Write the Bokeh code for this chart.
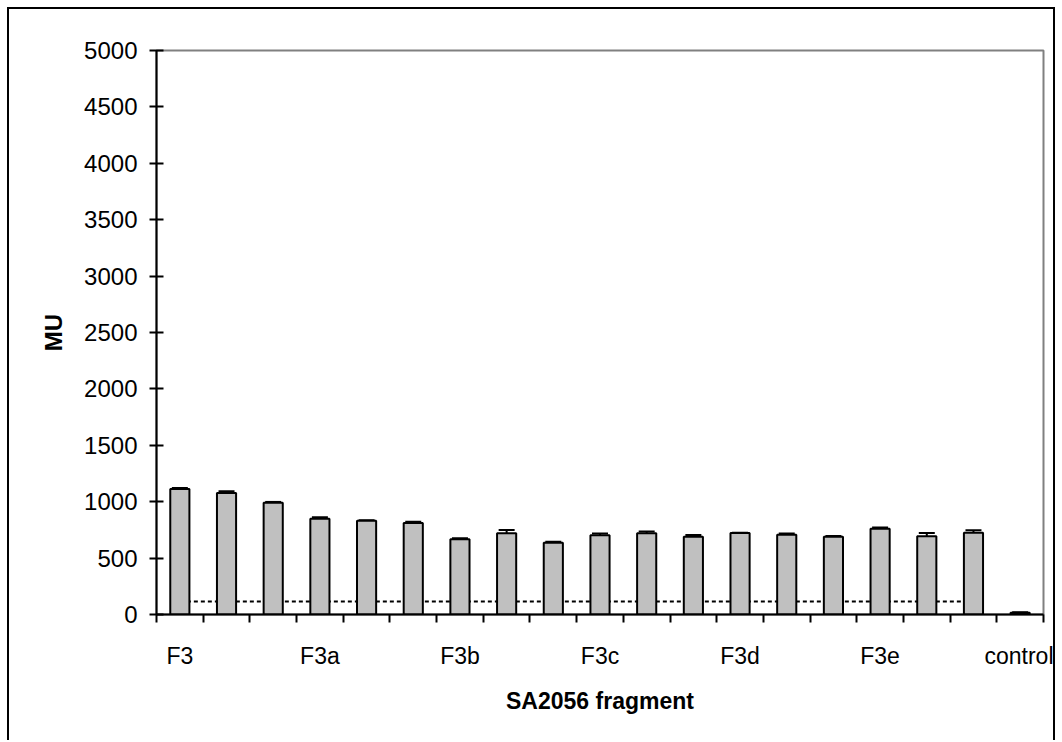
from bokeh.plotting import figure
from bokeh.models import (Range1d, FixedTicker, LinearAxis, ColumnDataSource,
                          Whisker, TeeHead)
from bokeh.embed import file_html
from bokeh.resources import INLINE

# ---- data ----
n_categories = 19
bar_values = [1112, 1078, 990, 848, 831, 812, 668, 721, 636, 703, 721, 689, 722,
              706, 689, 760, 693, 725, 15]
bar_errors = [10, 15, 8, 15, 4, 10, 8, 28, 10, 15, 15, 15, 3,
              12, 6, 12, 30, 22, 4]
tick_labels = ["F3", "F3a", "F3b", "F3c", "F3d", "F3e", "control"]
label_index = [0, 3, 6, 9, 12, 15, 18]
threshold_value = 115
threshold_span = [0.5, 17.3]
y_ticks = list(range(0, 5001, 500))

x_centers = [i + 0.5 for i in range(n_categories)]
src = ColumnDataSource(dict(
    x=x_centers, top=bar_values,
    upper=[v + e for v, e in zip(bar_values, bar_errors)],
    lower=[v - e for v, e in zip(bar_values, bar_errors)],
))

FONT = "Liberation Sans"

p = figure(width=1048, height=733, output_backend="svg", toolbar_location=None,
           x_range=Range1d(0, n_categories), y_range=Range1d(0, 5000),
           min_border_left=147, min_border_right=14, min_border_top=41,
           min_border_bottom=128, x_axis_type=None)
p.styles = {"border-top": "2px solid black", "border-left": "2px solid black",
            "border-right": "2px solid black", "margin": "7px 0 0 7px"}
p.grid.visible = False
p.outline_line_color = "#808080"
p.outline_line_width = 2
p.background_fill_color = "white"
p.border_fill_color = "white"

# y axis
ya = p.yaxis[0]
ya.ticker = FixedTicker(ticks=y_ticks)
ya.axis_line_color = "black"
ya.axis_line_width = 2
ya.major_tick_line_width = 2
ya.major_tick_in = 7
ya.major_tick_out = 7
ya.minor_tick_line_color = None
ya.major_label_text_font = FONT
ya.major_label_text_font_size = "24px"
ya.major_label_text_color = "black"
ya.major_label_standoff = 12
ya.axis_label = "MU"
ya.axis_label_text_font = FONT
ya.axis_label_text_font_style = "bold"
ya.axis_label_text_font_size = "24px"
ya.axis_label_text_color = "black"
ya.axis_label_standoff = 14

# x axis: labels at category groups, minor ticks at category boundaries
xa = LinearAxis(
    ticker=FixedTicker(ticks=[x_centers[i] for i in label_index],
                       minor_ticks=list(range(n_categories + 1))),
    major_label_overrides={x_centers[i]: t for i, t in zip(label_index, tick_labels)})
xa.axis_line_color = "black"
xa.axis_line_width = 2
xa.major_tick_line_color = None
xa.major_tick_in = 0
xa.major_tick_out = 0
xa.minor_tick_line_color = "black"
xa.minor_tick_line_width = 2
xa.minor_tick_in = 0
xa.minor_tick_out = 8
xa.major_label_text_font = FONT
xa.major_label_text_font_size = "23px"
xa.major_label_text_color = "black"
xa.major_label_standoff = 20
xa.axis_label = "SA2056 fragment"
xa.axis_label_text_font = FONT
xa.axis_label_text_font_style = "bold"
xa.axis_label_text_font_size = "23px"
xa.axis_label_text_color = "black"
xa.axis_label_standoff = 16
p.add_layout(xa, "below")

# threshold dotted line
p.line(threshold_span, [threshold_value, threshold_value], line_color="black",
       line_width=2, line_dash="4 3")

# bars
p.vbar(x="x", top="top", width=0.41, bottom=0, source=src,
       fill_color="#C0C0C0", line_color="black", line_width=2)

# error bars
wh = Whisker(base="x", upper="upper", lower="lower", source=src,
             line_color="black", line_width=2,
             upper_head=TeeHead(size=16, line_color="black", line_width=2),
             lower_head=TeeHead(size=16, line_color="black", line_width=2))
p.add_layout(wh)

open("out.html", "w").write(file_html(p, INLINE))
